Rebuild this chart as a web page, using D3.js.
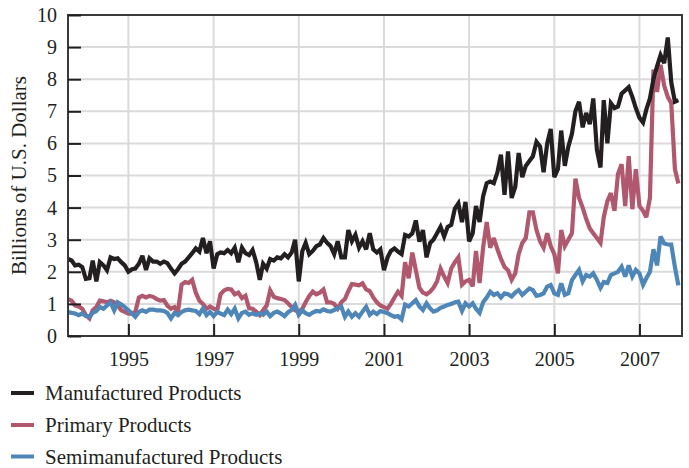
<!DOCTYPE html>
<html><head><meta charset="utf-8">
<script src="https://cdn.jsdelivr.net/npm/d3@7"></script>
<style>
body{margin:0;background:#fff}
text{font-family:"Liberation Serif","Times New Roman",serif;fill:#231f20}
</style>
</head><body>
<svg id="chart" width="689" height="468"></svg>
<script>
// ---- data (monthly, billions of U.S. dollars), first month Aug 1993 ----
const firstMonth = "1993-08";
const seriesNames = ["Manufactured Products", "Primary Products", "Semimanufactured Products"];
const seriesColors = ["#231f20", "#b0586d", "#4d86b7"];

const manufactured = [
  2.40, 2.35, 2.20, 2.22, 2.15,
  1.78, 1.80, 2.35, 1.70, 2.30, 2.20, 2.05, 2.45, 2.40, 2.42, 2.30, 2.20,
  2.00, 2.08, 2.10, 2.25, 2.50, 2.06, 2.42, 2.32, 2.32, 2.25, 2.32, 2.27,
  2.10, 1.95, 2.08, 2.25, 2.32, 2.45, 2.58, 2.73, 2.63, 3.05, 2.58, 2.95,
  2.10, 2.55, 2.60, 2.58, 2.68, 2.58, 2.75, 2.30, 2.75, 2.58, 2.52, 2.68,
  2.30, 1.75, 2.25, 2.10, 2.40, 2.35, 2.45, 2.42, 2.55, 2.45, 2.60, 3.00,
  1.70, 2.65, 2.90, 2.55, 2.65, 2.80, 2.85, 3.05, 2.90, 2.80, 2.55, 2.95,
  2.45, 2.45, 3.30, 2.95, 3.15, 2.75, 2.95, 2.70, 3.20, 2.70, 2.60, 2.70,
  2.05, 2.45, 2.65, 2.73, 2.63, 2.55, 3.15, 3.10, 3.20, 3.60, 2.94, 3.30,
  2.45, 2.90, 3.00, 3.20, 3.40, 3.10, 3.40, 3.46, 3.97, 4.13, 3.55, 4.18,
  2.95, 3.20, 4.05, 3.55, 4.35, 4.76, 4.81, 4.76, 5.10, 5.65, 4.40, 5.75,
  4.30, 4.65, 5.70, 4.95, 5.30, 5.45, 5.60, 6.05, 5.90, 5.10, 6.00, 6.45,
  4.95, 5.20, 6.40, 5.30, 5.90, 6.30, 7.00, 7.30, 6.50, 6.95, 6.60, 7.40,
  5.80, 5.25, 7.35, 6.00, 7.25, 7.10, 7.15, 7.55, 7.65, 7.75, 7.45, 7.10,
  6.80, 6.65, 7.05, 7.40, 8.00, 8.40, 8.75, 8.50, 9.30, 7.90, 7.30, 7.35
];
const primary = [
  1.15, 1.10, 0.95, 0.92, 0.85,
  0.65, 0.55, 0.80, 0.90, 1.10, 1.08, 1.05, 1.10, 1.05, 0.95, 0.80, 0.75,
  0.70, 0.70, 0.75, 1.20, 1.25, 1.20, 1.25, 1.22, 1.15, 1.10, 1.12, 0.95,
  0.85, 0.90, 0.75, 1.60, 1.68, 1.65, 1.75, 1.35, 1.10, 1.00, 0.85, 0.92,
  0.85, 0.80, 1.30, 1.42, 1.47, 1.45, 1.30, 1.35, 1.18, 1.25, 0.86, 0.85,
  0.76, 0.65, 0.80, 0.95, 1.42, 1.22, 1.18, 1.15, 1.12, 1.02, 0.90, 0.80,
  0.75, 0.85, 1.05, 1.25, 1.38, 1.30, 1.35, 1.45, 1.05, 1.05, 1.00, 0.85,
  1.05, 1.15, 1.40, 1.62, 1.60, 1.58, 1.64, 1.45, 1.40, 1.20, 1.05, 0.95,
  0.90, 0.85, 1.00, 1.20, 1.38, 1.25, 2.30, 1.80, 2.60, 2.05, 1.50, 1.35,
  1.30, 1.38, 1.50, 1.70, 2.10, 1.85, 1.65, 2.10, 2.30, 2.45, 1.60, 1.70,
  1.75, 1.55, 2.65, 1.65, 2.75, 3.55, 2.75, 3.05, 2.70, 2.40, 2.15, 2.05,
  1.75, 1.95, 2.55, 2.90, 3.05, 3.85, 3.85, 3.30, 2.95, 2.75, 3.20, 2.80,
  2.55, 1.95, 3.30, 2.80, 3.00, 3.20, 4.90, 4.30, 4.00, 3.65, 3.35, 3.20,
  3.05, 2.90, 3.70, 4.20, 4.45, 3.90, 5.05, 5.35, 4.05, 5.60, 3.95, 5.20,
  4.05, 3.90, 3.70, 4.30, 8.30, 7.60, 8.45, 7.80, 7.45, 7.25, 5.20, 4.75
];
const semimanufactured = [
  0.75, 0.72, 0.70, 0.65, 0.70,
  0.62, 0.60, 0.72, 0.78, 0.90, 0.85, 0.95, 1.05, 0.80, 1.05, 0.98, 0.90,
  0.80, 0.70, 0.60, 0.75, 0.80, 0.75, 0.82, 0.82, 0.80, 0.80, 0.78, 0.72,
  0.55, 0.72, 0.65, 0.75, 0.80, 0.82, 0.80, 0.78, 0.68, 0.86, 0.65, 0.75,
  0.62, 0.75, 0.70, 0.65, 0.82, 0.68, 0.85, 0.55, 0.72, 0.76, 0.66, 0.71,
  0.66, 0.71, 0.66, 0.76, 0.62, 0.72, 0.76, 0.70, 0.62, 0.74, 0.81, 0.97,
  0.66, 0.80, 0.71, 0.66, 0.73, 0.78, 0.76, 0.83, 0.78, 0.76, 0.81, 0.86,
  0.91, 0.60, 0.76, 0.60, 0.71, 0.60, 0.76, 0.91, 0.66, 0.76, 0.68, 0.78,
  0.75, 0.71, 0.65, 0.60, 0.62, 0.52, 0.98, 0.92, 1.02, 1.12, 0.92, 0.81,
  1.02, 0.86, 0.76, 0.80, 0.88, 0.92, 0.97, 1.00, 1.05, 1.07, 0.78, 1.02,
  0.92, 1.02, 0.85, 0.72, 1.05, 1.20, 1.38, 1.28, 1.33, 1.20, 1.33, 1.30,
  1.23, 1.35, 1.43, 1.28, 1.38, 1.48, 1.43, 1.25, 1.28, 1.33, 1.54, 1.59,
  1.33, 1.28, 1.64, 1.28, 1.33, 1.74, 1.90, 2.06, 1.70, 1.90, 1.85, 1.95,
  1.75, 1.50, 1.68, 1.65, 1.90, 1.95, 2.00, 2.16, 1.85, 2.20, 1.85, 2.06,
  1.95, 1.60, 1.80, 2.00, 2.70, 2.20, 3.10, 2.88, 2.85, 2.85, 2.15, 1.58
];
const yTickValues = [0, 1, 2, 3, 4, 5, 6, 7, 8, 9, 10];
const xTickYears = [1995, 1997, 1999, 2001, 2003, 2005, 2007];
const yAxisTitle = "Billions of U.S. Dollars";

// ---- drawing ----
const svg = d3.select("#chart");
const L = 68, R = 682, T = 15, B = 336;
const start = d3.timeParse("%Y-%m")(firstMonth);
const dates = manufactured.map((_, i) => d3.timeMonth.offset(start, i));
const x = d3.scaleTime().domain([start, d3.timeMonth.offset(start, manufactured.length)]).range([L, R]);
const y = d3.scaleLinear().domain([0, 10]).range([B, T]);
const tickDates = xTickYears.map(yr => new Date(yr, 0, 1));

// grid
const grid = svg.append("g");
grid.selectAll("line.h").data(yTickValues.filter(v => v > 0 && v < 10)).enter().append("line")
  .attr("x1", L).attr("x2", R).attr("y1", d => y(d)).attr("y2", d => y(d))
  .attr("stroke", "#dadada").attr("stroke-width", 2);
grid.selectAll("line.v").data(tickDates).enter().append("line")
  .attr("x1", d => x(d)).attr("x2", d => x(d)).attr("y1", T).attr("y2", B)
  .attr("stroke", "#dadada").attr("stroke-width", 2);

// series lines
const series = [
  { name: seriesNames[1], values: primary, color: seriesColors[1] },
  { name: seriesNames[2], values: semimanufactured, color: seriesColors[2] },
  { name: seriesNames[0], values: manufactured, color: seriesColors[0] }
];
const line = d3.line().x((d, i) => x(dates[i])).y(d => y(d));
svg.append("g").selectAll("path").data(series).enter().append("path")
  .attr("d", s => line(s.values))
  .attr("fill", "none").attr("stroke", s => s.color)
  .attr("stroke-width", 4.2).attr("stroke-linejoin", "miter").attr("stroke-miterlimit", 3);

// frame
svg.append("rect").attr("x", L).attr("y", T).attr("width", R - L).attr("height", B - T)
  .attr("fill", "none").attr("stroke", "#3a3a3a").attr("stroke-width", 2);

// axes
const yAxis = svg.append("g").attr("transform", `translate(${L},0)`)
  .call(d3.axisLeft(y).tickValues(yTickValues).tickSize(-13).tickPadding(11).tickFormat(d3.format("d")));
yAxis.select(".domain").remove();
yAxis.selectAll(".tick line").attr("stroke", "#231f20").attr("stroke-width", 2);
yAxis.selectAll("text").attr("font-size", 20).style("font-family", "Liberation Serif");

const xAxis = svg.append("g").attr("transform", `translate(0,${B})`)
  .call(d3.axisBottom(x).tickValues(tickDates).tickSize(-12).tickPadding(16).tickFormat(d3.timeFormat("%Y")));
xAxis.select(".domain").remove();
xAxis.selectAll(".tick line").attr("stroke", "#231f20").attr("stroke-width", 2);
xAxis.selectAll("text").attr("font-size", 20).style("font-family", "Liberation Serif");

// y title
svg.append("text").attr("transform", `translate(26,${(T + B) / 2}) rotate(-90)`)
  .attr("text-anchor", "middle").attr("font-size", 21).text(yAxisTitle);

// legend
const leg = svg.append("g");
const legY = [393, 425, 456.5];
[0, 1, 2].forEach(k => {
  leg.append("line").attr("x1", 11).attr("x2", 34).attr("y1", legY[k]).attr("y2", legY[k])
    .attr("stroke", seriesColors[k]).attr("stroke-width", 4);
  leg.append("text").attr("x", 45).attr("y", legY[k] + 7).attr("font-size", 21).text(seriesNames[k]);
});
</script>
</body></html>
